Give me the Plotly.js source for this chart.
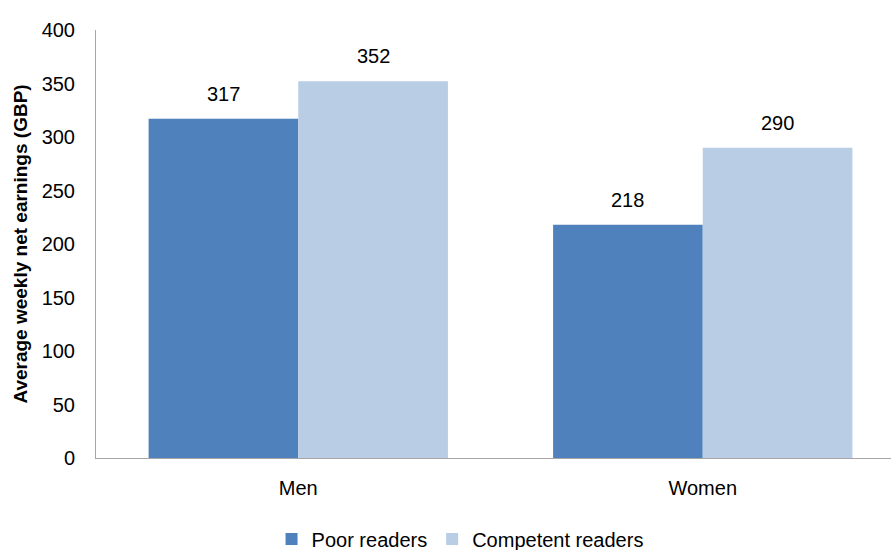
<!DOCTYPE html>
<html><head><meta charset="utf-8">
<script src="https://cdn.plot.ly/plotly-3.0.1.min.js"></script>
<style>html,body{margin:0;padding:0;overflow:hidden;width:891px;height:550px;} #chart{width:905px;height:550px;}</style>
</head><body><div id="chart"></div>
<script>
const categories = ["Men", "Women"];
const poorReaders = [317, 218];
const competentReaders = [352, 290];
const seriesNames = ["Poor readers", "Competent readers"];
const yTicks = [0, 50, 100, 150, 200, 250, 300, 350, 400];

const font = "'Liberation Sans', Arial, sans-serif";
const bargap = 0.26;
const half = (1 - bargap) / 4;
const traces = [
  {type:"bar", name:seriesNames[0], x:categories, y:poorReaders, marker:{color:"#4F81BD"}, hoverinfo:"none"},
  {type:"bar", name:seriesNames[1], x:categories, y:competentReaders, marker:{color:"#B9CDE5"}, hoverinfo:"none"}
];
const annotations = [];
categories.forEach((c, i) => {
  annotations.push({x:i - half, y:poorReaders[i], xref:"x", yref:"y", text:String(poorReaders[i]), showarrow:false, yanchor:"bottom", yshift:12, font:{size:20, color:"#000"}});
  annotations.push({x:i + half, y:competentReaders[i], xref:"x", yref:"y", text:String(competentReaders[i]), showarrow:false, yanchor:"bottom", yshift:12, font:{size:20, color:"#000"}});
});
const layout = {
  width:905, height:550,
  margin:{l:96, r:0, t:30, b:92, autoexpand:false},
  paper_bgcolor:"#fff", plot_bgcolor:"#fff",
  font:{family:font, size:20, color:"#000"},
  barmode:"group", bargap:bargap, bargroupgap:0,
  xaxis:{type:"category", range:[-0.5, 1.5], showline:true, linecolor:"#a6a6a6", linewidth:1, ticks:"", tickfont:{size:20}, showgrid:false, zeroline:false, ticklabelstandoff:12},
  yaxis:{range:[0,400], tickvals:yTicks, showline:true, linecolor:"#a6a6a6", linewidth:1, ticks:"", showgrid:false, zeroline:false,
    tickfont:{size:20}, ticklabelstandoff:16,
    title:{text:"<b>Average weekly net earnings (GBP)</b>", font:{size:19}, standoff:8}},
  legend:{orientation:"h", x:0.45, xanchor:"center", yref:"container", y:0.02, yanchor:"middle", font:{size:20}, traceorder:"normal", itemwidth:30},
  annotations:annotations,
  showlegend:true
};
Plotly.newPlot("chart", traces, layout, {displayModeBar:false, staticPlot:true});
</script></body></html>
